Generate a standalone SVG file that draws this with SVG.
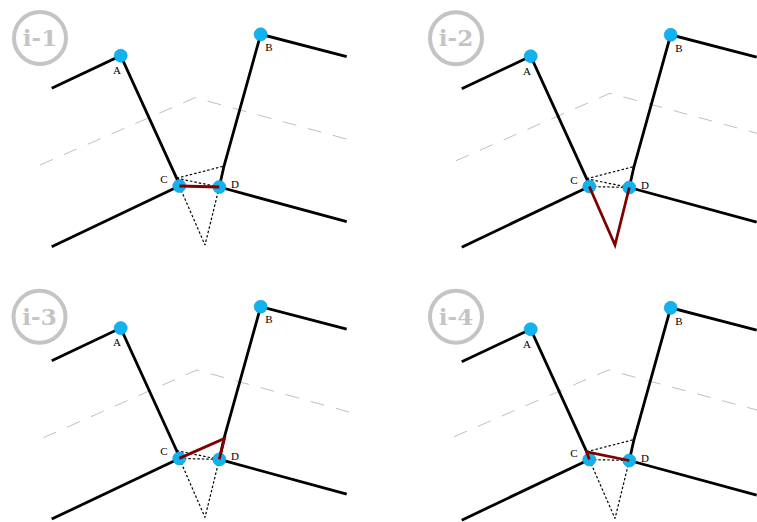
<svg xmlns="http://www.w3.org/2000/svg" width="757" height="522" viewBox="0 0 757 522">
<style>
.bg{fill:#ffffff}
.fold{fill:none;stroke:#000;stroke-width:2.8;stroke-linejoin:miter}
.guide{fill:none;stroke:#c0c0c0;stroke-width:1;stroke-dasharray:14 12}
.dot{fill:none;stroke:#000;stroke-width:1.2;stroke-dasharray:2.5 2}
.red{fill:none;stroke:#800000;stroke-width:2.8;stroke-linejoin:miter}
.pt{fill:#10b2f0;stroke:#0a9ad4;stroke-width:0.6}
.lbl{font-family:"Liberation Serif","DejaVu Serif",serif;font-size:11px;fill:#000;text-anchor:middle}
.badge circle{fill:none;stroke:#c4c4c4;stroke-width:4}
.badge text{font-family:"DejaVu Serif","Liberation Serif",serif;font-weight:bold;font-size:23px;fill:#c4c4c4;text-anchor:middle}
</style>
<defs>
<g id="frame">
  <polyline class="fold" points="51.7,88.3 120.7,55.7 176.7,178.3 179.3,186"/>
  <polyline class="fold" points="51.7,246.7 179.3,186"/>
  <polyline class="fold" points="346.7,56.7 260.7,34.3 224,166 219.3,187"/>
  <polyline class="fold" points="219.3,187 346.7,221.7"/>
</g>
</defs>
<rect class="bg" x="0" y="0" width="757" height="522"/>

<!-- Panel i-1 -->
<g id="panel1">
  <g id="badge1" class="badge"><circle cx="40" cy="38" r="26"/><text x="40" y="46">i-1</text></g>
  <polyline class="guide" points="40,165 195,97.7 350,140"/>
  <g id="p1-connectors">
    <use href="#frame"/>
    <line class="dot" x1="176.7" y1="178.3" x2="224" y2="166"/>
    <line class="dot" x1="176.7" y1="178.3" x2="219.3" y2="187"/>
    <line class="dot" x1="179.3" y1="186" x2="205" y2="245"/>
    <line class="dot" x1="219.3" y1="187" x2="205" y2="245"/>
  </g>
  <g id="p1-A"><circle class="pt" cx="120.7" cy="55.7" r="6.5"/><text class="lbl" x="117" y="74">A</text></g>
  <g id="p1-B"><circle class="pt" cx="260.7" cy="34.3" r="6.5"/><text class="lbl" x="269" y="51">B</text></g>
  <g id="p1-C"><circle class="pt" cx="179.3" cy="186" r="6.5"/><text class="lbl" x="164" y="183">C</text></g>
  <g id="p1-D"><circle class="pt" cx="219.3" cy="187" r="6.5"/><text class="lbl" x="235" y="188">D</text></g>
  <polyline class="red" points="179.3,186 219.3,187"/>
</g>

<!-- Panel i-2 -->
<g id="panel2">
  <g id="badge2" class="badge"><circle cx="456" cy="38.3" r="26"/><text x="456" y="46.3">i-2</text></g>
  <polyline class="guide" points="456,160.7 610,93.3 757,133.3"/>
  <g transform="translate(410,0.5)">
    <g id="p2-connectors">
      <use href="#frame"/>
      <line class="dot" x1="176.7" y1="178.3" x2="224" y2="166"/>
      <line class="dot" x1="176.7" y1="178.3" x2="219.3" y2="187"/>
      <line class="dot" x1="179.3" y1="186" x2="219.3" y2="187"/>
    </g>
    <g id="p2-A"><circle class="pt" cx="120.7" cy="55.7" r="6.5"/><text class="lbl" x="117" y="74">A</text></g>
    <g id="p2-B"><circle class="pt" cx="260.7" cy="34.3" r="6.5"/><text class="lbl" x="269" y="51">B</text></g>
    <g id="p2-C"><circle class="pt" cx="179.3" cy="186" r="6.5"/><text class="lbl" x="164" y="183">C</text></g>
    <g id="p2-D"><circle class="pt" cx="219.3" cy="187" r="6.5"/><text class="lbl" x="235" y="188">D</text></g>
    <polyline class="red" points="179.3,186 205,244.5 219.3,187"/>
  </g>
</g>

<!-- Panel i-3 -->
<g id="panel3">
  <g id="badge3" class="badge"><circle cx="39.5" cy="316.7" r="26"/><text x="39.5" y="324.7">i-3</text></g>
  <polyline class="guide" points="43.3,437.7 196.7,370 351.7,412.7"/>
  <g transform="translate(0,272.4)">
    <g id="p3-connectors">
      <use href="#frame"/>
      <line class="dot" x1="176.7" y1="178.3" x2="219.3" y2="187"/>
      <line class="dot" x1="179.3" y1="186" x2="219.3" y2="187"/>
      <line class="dot" x1="179.3" y1="186" x2="205" y2="245"/>
      <line class="dot" x1="219.3" y1="187" x2="205" y2="245"/>
    </g>
    <g id="p3-A"><circle class="pt" cx="120.7" cy="55.7" r="6.5"/><text class="lbl" x="117" y="74">A</text></g>
    <g id="p3-B"><circle class="pt" cx="260.7" cy="34.3" r="6.5"/><text class="lbl" x="269" y="51">B</text></g>
    <g id="p3-C"><circle class="pt" cx="179.3" cy="186" r="6.5"/><text class="lbl" x="164" y="183">C</text></g>
    <g id="p3-D"><circle class="pt" cx="219.3" cy="187" r="6.5"/><text class="lbl" x="235" y="188">D</text></g>
    <polyline class="red" points="179.3,186 224.5,166 219.3,187"/>
  </g>
</g>

<!-- Panel i-4 -->
<g id="panel4">
  <g id="badge4" class="badge"><circle cx="456" cy="316.7" r="26"/><text x="456" y="324.7">i-4</text></g>
  <polyline class="guide" points="454,436.7 608.3,370 757,410"/>
  <g transform="translate(410,273.5)">
    <g id="p4-connectors">
      <use href="#frame"/>
      <line class="dot" x1="176.7" y1="178.3" x2="224" y2="166"/>
      <line class="dot" x1="179.3" y1="186" x2="219.3" y2="187"/>
      <line class="dot" x1="179.3" y1="186" x2="205" y2="245"/>
      <line class="dot" x1="219.3" y1="187" x2="205" y2="245"/>
    </g>
    <g id="p4-A"><circle class="pt" cx="120.7" cy="55.7" r="6.5"/><text class="lbl" x="117" y="74">A</text></g>
    <g id="p4-B"><circle class="pt" cx="260.7" cy="34.3" r="6.5"/><text class="lbl" x="269" y="51">B</text></g>
    <g id="p4-C"><circle class="pt" cx="179.3" cy="186" r="6.5"/><text class="lbl" x="164" y="183">C</text></g>
    <g id="p4-D"><circle class="pt" cx="219.3" cy="187" r="6.5"/><text class="lbl" x="235" y="188">D</text></g>
    <polyline class="red" points="179.3,186 176.7,178.3 219.3,187"/>
  </g>
</g>
</svg>
